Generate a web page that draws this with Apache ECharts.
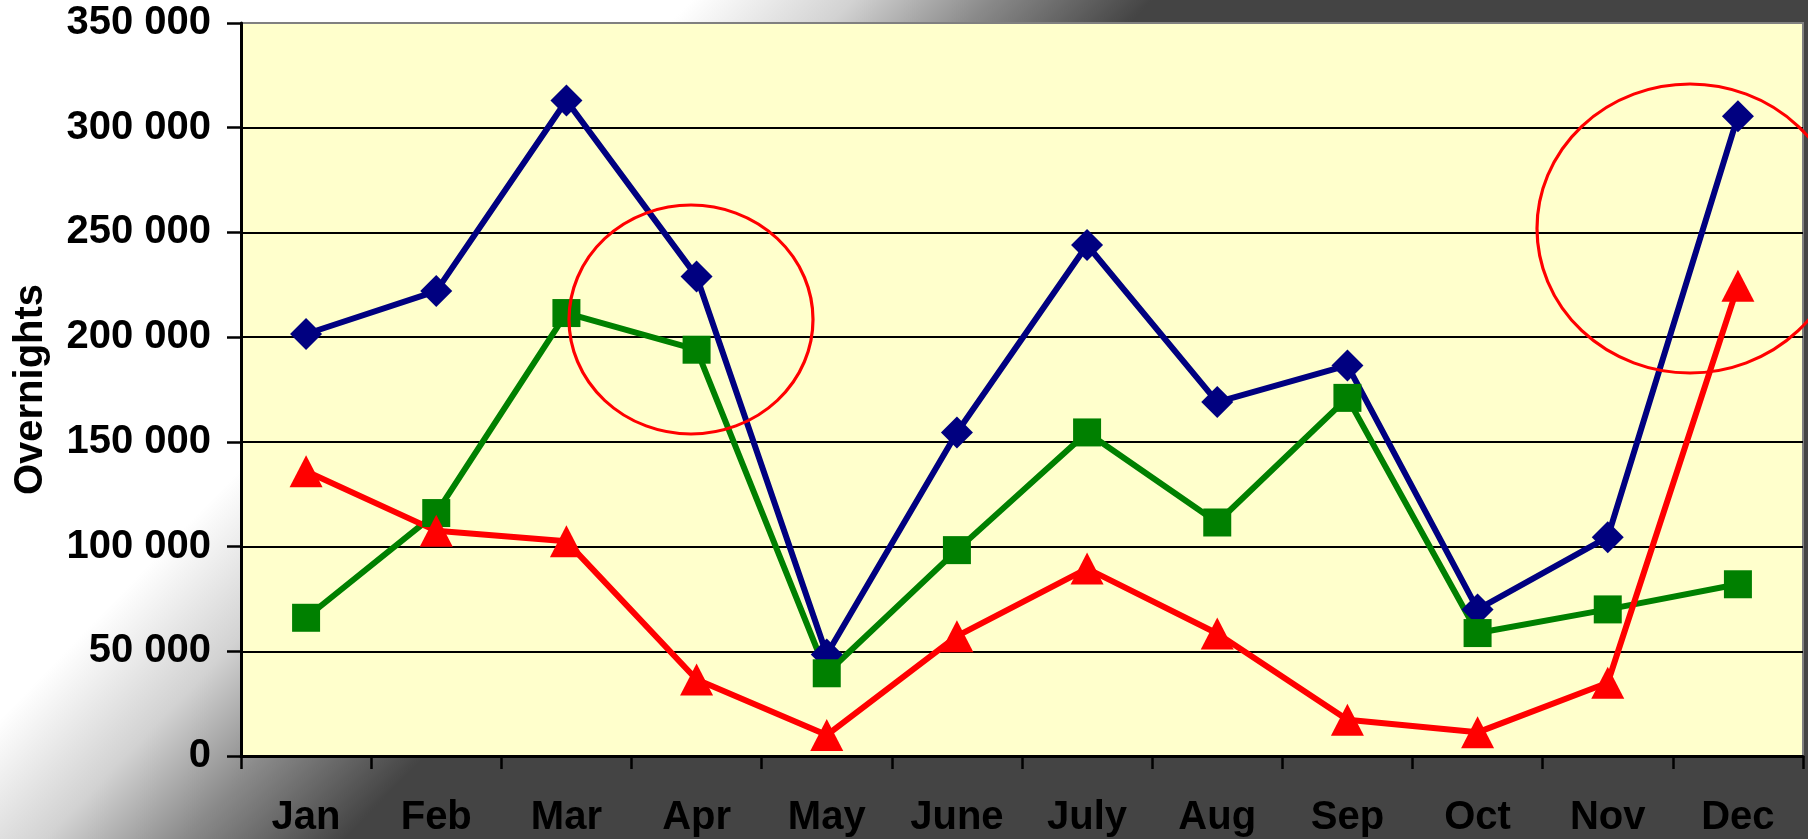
<!DOCTYPE html>
<html>
<head>
<meta charset="utf-8">
<script src="https://cdn.jsdelivr.net/npm/echarts@6/dist/echarts.min.js"></script>
<style>
html,body{margin:0;padding:0;background:#fff;}
#chart{width:1808px;height:839px;}
</style>
</head>
<body>
<div id="chart"></div>
<script>
var categories = ['Jan','Feb','Mar','Apr','May','June','July','Aug','Sep','Oct','Nov','Dec'];
var seriesBlue  = [201500, 222000, 313000, 229000, 48500, 154500, 244000, 169000, 186500, 70000, 104500, 305500];
var seriesGreen = [66000, 116000, 211500, 194000, 39500, 98300, 154500, 111500, 171000, 58700, 70000, 82000];
var seriesRed   = [136000, 107500, 102500, 36500, 10000, 57200, 89500, 58500, 17300, 11300, 35000, 224500];
var yTicks = [0, 50000, 100000, 150000, 200000, 250000, 300000, 350000];
var yName = 'Overnights';

function fmt(v){
  return String(v).replace(/\B(?=(\d{3})+(?!\d))/g, ' ');
}

var chart = echarts.init(document.getElementById('chart'), null, {renderer:'canvas'});
var FONT = '"Liberation Sans", Arial, sans-serif';

var option = {
  animation: false,
  backgroundColor: {
    type: 'linear', global: true,
    x: 359, y: 346, x2: 598, y2: 576,
    colorStops: [
      {offset: 0, color: '#ffffff'},
      {offset: 0.35, color: '#d2d2d2'},
      {offset: 0.65, color: '#8a8a8a'},
      {offset: 1, color: '#444444'}
    ]
  },
  grid: {
    left: 241, right: 5, top: 23, bottom: 83,
    containLabel: false,
    outerBoundsMode: 'none',
    show: true, backgroundColor: '#FFFFCC',
    borderColor: '#808080', borderWidth: 2
  },
  xAxis: {
    type: 'category',
    data: categories,
    boundaryGap: true,
    axisLine: {show: true, lineStyle: {color: '#000', width: 3}},
    axisTick: {show: true, length: 13, lineStyle: {color: '#000', width: 2.5}},
    axisLabel: {
      color: '#000', fontFamily: FONT, fontWeight: 'bold', fontSize: 40,
      margin: 42, interval: 0
    },
    splitLine: {show: false}
  },
  yAxis: {
    type: 'value',
    min: yTicks[0], max: yTicks[yTicks.length-1], interval: yTicks[1]-yTicks[0],
    name: yName,
    nameLocation: 'middle',
    nameGap: 190,
    nameRotate: 90,
    nameTextStyle: {color: '#000', fontFamily: FONT, fontWeight: 'bold', fontSize: 40},
    axisLine: {show: true, lineStyle: {color: '#000', width: 3}},
    axisTick: {show: true, length: 14, lineStyle: {color: '#000', width: 2.5}},
    axisLabel: {
      color: '#000', fontFamily: FONT, fontWeight: 'bold', fontSize: 40,
      margin: 30, formatter: fmt
    },
    splitLine: {show: true, showMaxLine: false, lineStyle: {color: '#000', width: 2}}
  },
  series: [
    {
      name: 'Series 1', type: 'line', data: seriesBlue,
      symbol: 'diamond', symbolSize: 32, showSymbol: true,
      lineStyle: {color: '#000080', width: 6},
      itemStyle: {color: '#000080', borderWidth: 0}
    },
    {
      name: 'Series 2', type: 'line', data: seriesGreen,
      symbol: 'rect', symbolSize: 28, showSymbol: true,
      lineStyle: {color: '#008000', width: 6},
      itemStyle: {color: '#008000', borderWidth: 0}
    },
    {
      name: 'Series 3', type: 'line', data: seriesRed,
      symbol: 'triangle', symbolSize: [33, 32], showSymbol: true,
      lineStyle: {color: '#FF0000', width: 6},
      itemStyle: {color: '#FF0000', borderWidth: 0}
    }
  ],
  graphic: [
    {
      type: 'circle', z: 100,
      x: 691, y: 319.5, scaleX: 122/114.5, scaleY: 1,
      shape: {cx: 0, cy: 0, r: 114.5},
      style: {fill: 'none', stroke: '#FF0000', lineWidth: 3}
    },
    {
      type: 'circle', z: 100,
      x: 1690, y: 228.5, scaleX: 153/144.5, scaleY: 1,
      shape: {cx: 0, cy: 0, r: 144.5},
      style: {fill: 'none', stroke: '#FF0000', lineWidth: 3}
    }
  ]
};
chart.setOption(option);
</script>
</body>
</html>
